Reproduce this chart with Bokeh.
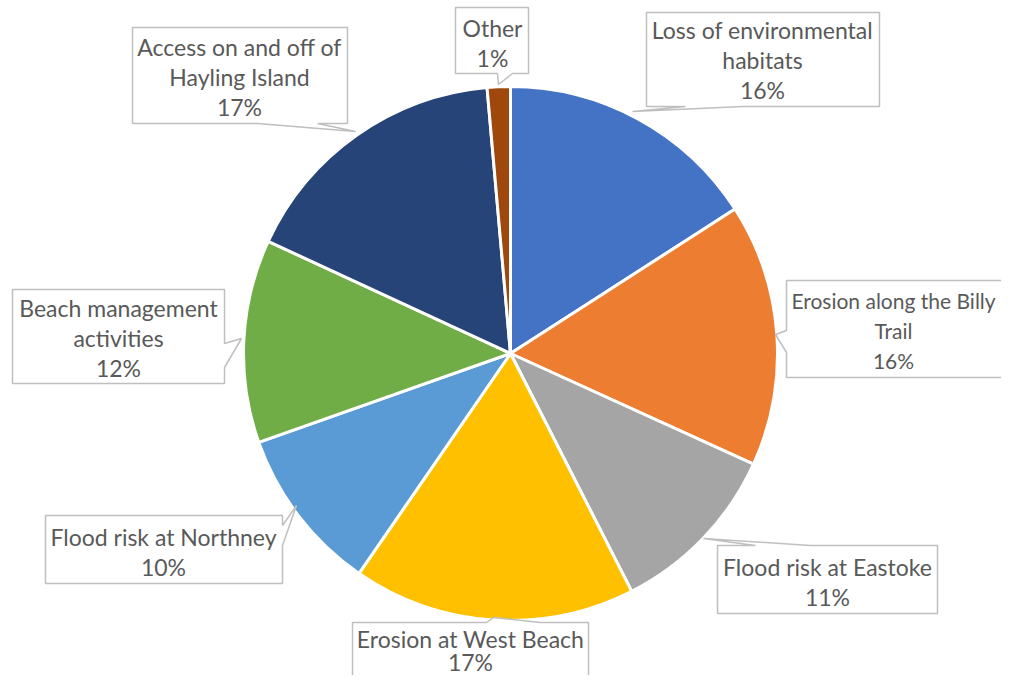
import numpy as np
from bokeh.plotting import figure
from bokeh.models import Range1d, ColumnDataSource
from bokeh.core.properties import value
from bokeh.embed import file_html
from bokeh.resources import INLINE

# ---- data ----
categories = [
    "Loss of environmental\nhabitats",
    "Erosion along the Billy\nTrail",
    "Flood risk at Eastoke",
    "Erosion at West Beach",
    "Flood risk at Northney",
    "Beach management\nactivities",
    "Access on and off of\nHayling Island",
    "Other",
]
values = [15.9, 15.9, 10.7, 17.1, 10.0, 12.3, 16.7, 1.4]
colors = ["#4472C4", "#ED7D31", "#A5A5A5", "#FFC000", "#5B9BD5", "#70AD47", "#264478", "#9E480E"]

# ---- layout (picture pixel coordinates, y down) ----
W, H = 1001, 675
def fy(Y):
    return H - Y

CX, CY, R = 510, 353, 267

# callout boxes: polygon outline (including pointer), text centre, font size
callouts = [
    dict(poly=[(646, 12), (879, 12), (879, 106), (743, 106), (632, 111), (685, 106), (646, 106)], cx=762, cy=59, fs=23),
    dict(poly=[(786, 280), (1040, 280), (1040, 377), (786, 377), (786, 352), (775, 334), (786, 330)], cx=893, cy=330, fs=21),
    dict(poly=[(717, 545), (755, 545), (703, 538), (810, 545), (937, 545), (937, 613), (717, 613)], cx=827, cy=581, fs=23),
    dict(poly=[(352, 622), (486, 622), (493, 617), (540, 622), (588, 622), (588, 720), (352, 720)], cx=470, cy=650, fs=23),
    dict(poly=[(45, 515), (282, 515), (282, 525), (296, 505), (282, 545), (282, 583), (45, 583)], cx=163, cy=551, fs=23),
    dict(poly=[(12, 289), (224, 289), (224, 343), (241, 338), (224, 367), (224, 383), (12, 383)], cx=118, cy=337, fs=23),
    dict(poly=[(132, 27), (347, 27), (347, 123), (317, 123), (355, 131), (257, 123), (132, 123)], cx=239, cy=76, fs=23),
    dict(poly=[(455, 7), (528, 7), (528, 73), (512, 73), (498, 84), (497, 73), (455, 73)], cx=492, cy=42, fs=23),
]
line_gap = [30, 30, 30, 23, 30, 30, 30, 30]

frac = np.array(values) / sum(values)
cum = np.concatenate([[0], np.cumsum(frac)])
start = np.pi / 2 - 2 * np.pi * cum[1:]
end = np.pi / 2 - 2 * np.pi * cum[:-1]

p = figure(width=W, height=H, x_range=Range1d(0, W), y_range=Range1d(0, H),
           output_backend="svg", toolbar_location=None, x_axis_location=None,
           y_axis_location=None, min_border=0, title=None)
p.outline_line_color = None
p.grid.visible = False
p.background_fill_color = "white"
p.border_fill_color = "white"

src = ColumnDataSource(dict(start=start, end=end, color=colors))
p.wedge(x=CX, y=fy(CY), radius=R, start_angle="start", end_angle="end",
        direction="anticlock", fill_color="color", line_color="white", line_width=3, source=src)

xs = [[pt[0] for pt in c["poly"]] for c in callouts]
ys = [[fy(pt[1]) for pt in c["poly"]] for c in callouts]
p.patches(xs, ys, fill_color="white", line_color="#BFBFBF", line_width=1.5)

tx, ty, tt, tf = [], [], [], []
for cat, v, c, lh in zip(categories, values, callouts, line_gap):
    lines = cat.split("\n") + [f"{round(v)}%"]
    n = len(lines)
    for i, ln in enumerate(lines):
        tx.append(c["cx"])
        ty.append(fy(c["cy"] + (i - (n - 1) / 2) * lh))
        tt.append(ln)
        tf.append(f"{c['fs']}px")
tsrc = ColumnDataSource(dict(x=tx, y=ty, text=tt, fs=tf))
p.text(x="x", y="y", text="text", text_font=value("Lato"), text_font_size="fs",
       text_color="#595959", text_align="center", text_baseline="middle", source=tsrc)

open("out.html", "w").write(file_html(p, INLINE))
